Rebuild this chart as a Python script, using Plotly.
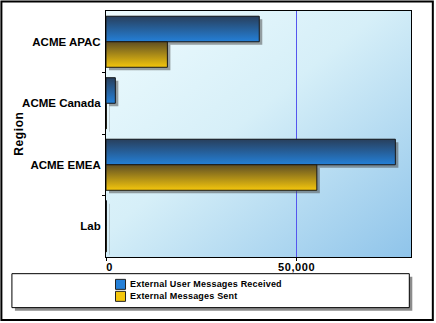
import plotly.graph_objects as go

# ---- data ----
regions = ["ACME APAC", "ACME Canada", "ACME EMEA", "Lab"]
received = [40200, 2450, 75900, 120]
sent = [16100, 110, 55300, 110]
series_names = ["External User Messages Received", "External Messages Sent"]
x_tick_values = [0, 50000]
x_tick_labels = ["\u00a0\u00a00", "50,000"]

# ---- page geometry (px) ----
W, H = 436, 323
ML, MR, MT, MB = 106, 25.3, 11, 65.7
PW, PH = W - ML - MR, H - MT - MB
X_MAX = 80000
Y_RANGE = [3.5, -0.5]
BARGAP = 0.17
BAR_W = (1 - BARGAP) / 2

FONT = "Liberation Sans, Arial, sans-serif"

# series styling: flat colour, gradient top -> bottom
styles = [
    dict(flat="#2479c9", top="#283f5c", bottom="#2480d8"),
    dict(flat="#e2b414", top="#5e4e24", bottom="#f4c60c"),
]


def xp(px):
    return (px - ML) / PW


def yp(py):
    return (MT + PH - py) / PH


def spaced(text, px=0.8):
    return f'<span style="letter-spacing:{px}px">{text}</span>'


# pixel -> data offsets for the drop shadows
SHADOW_PX = 3
sdx = SHADOW_PX * X_MAX / PW
sdy = SHADOW_PX * (Y_RANGE[0] - Y_RANGE[1]) / PH

fig = go.Figure()

positions = list(range(len(regions)))
series = [received, sent]

# base bars
for k, (vals, name) in enumerate(zip(series, series_names)):
    fig.add_trace(go.Bar(
        y=positions, x=vals, orientation="h", name=name,
        marker=dict(color=styles[k]["flat"], line=dict(width=0)),
        showlegend=False, hoverinfo="x+name",
    ))


def bar_box(i, k):
    y0 = i - BAR_W + k * BAR_W
    y1 = y0 + BAR_W
    return y0, y1


# shadows
for k, vals in enumerate(series):
    for i, v in enumerate(vals):
        y0, y1 = bar_box(i, k)
        fig.add_trace(go.Scatter(
            x=[sdx, v + sdx, v + sdx, sdx, sdx],
            y=[y0 + sdy, y0 + sdy, y1 + sdy, y1 + sdy, y0 + sdy],
            mode="lines", fill="toself", fillcolor="rgba(70,70,70,0.5)",
            line=dict(width=0), showlegend=False, hoverinfo="skip",
        ))

# gradient-shaded bar faces (dark edge on top, bright below)
for k, vals in enumerate(series):
    st = styles[k]
    for i, v in enumerate(vals):
        y0, y1 = bar_box(i, k)
        fig.add_trace(go.Scatter(
            x=[0, v, v, 0, 0],
            y=[y0, y0, y1, y1, y0],
            mode="lines", fill="toself",
            fillgradient=dict(type="vertical",
                              colorscale=[[0, st["bottom"]], [1, st["top"]]]),
            line=dict(color="#1a1a1a", width=1),
            showlegend=False, hoverinfo="skip",
        ))

# plot-area background gradient
bg_svg = (
    "<svg xmlns='http://www.w3.org/2000/svg' width='100' height='100' preserveAspectRatio='none'>"
    "<defs><linearGradient id='g' x1='0' y1='0' x2='1' y2='1'>"
    "<stop offset='0' stop-color='%23eefbfe'/>"
    "<stop offset='0.45' stop-color='%23d6eff8'/>"
    "<stop offset='1' stop-color='%238fc4ea'/>"
    "</linearGradient></defs>"
    "<rect width='100' height='100' fill='url(%23g)'/></svg>"
)
bg_uri = "data:image/svg+xml;charset=utf-8," + bg_svg.replace("<", "%3C").replace(">", "%3E").replace("'", "%27").replace(" ", "%20")

shapes = []
# outer frame
shapes.append(dict(type="rect", xref="paper", yref="paper",
                   x0=xp(1.5), x1=xp(432.5), y0=yp(320.5), y1=yp(1.5),
                   line=dict(color="black", width=2), layer="below"))
# legend box shadow + box
shapes.append(dict(type="rect", xref="paper", yref="paper",
                   x0=xp(15), x1=xp(412), y0=yp(311), y1=yp(277),
                   line=dict(width=0), fillcolor="#8c8c8c"))
shapes.append(dict(type="rect", xref="paper", yref="paper",
                   x0=xp(12), x1=xp(409), y0=yp(308), y1=yp(274),
                   line=dict(color="black", width=1), fillcolor="white"))

annotations = []
legend_rows = [284.7, 296.7]
for k, (name, row) in enumerate(zip(series_names, legend_rows)):
    shapes.append(dict(type="rect", xref="paper", yref="paper",
                       x0=xp(115.5), x1=xp(125.5), y0=yp(row + 5), y1=yp(row - 5),
                       line=dict(color="#222222", width=1),
                       fillcolor=styles[k]["bottom"]))
    annotations.append(dict(xref="paper", yref="paper", x=xp(127.5), y=yp(row),
                            xanchor="left", yanchor="middle", showarrow=False,
                            text=spaced(name, 0.2),
                            font=dict(family=FONT, size=9, color="black", weight="bold")))

# y-axis title
annotations.append(dict(xref="paper", yref="paper", x=xp(19), y=yp(134),
                        xanchor="center", yanchor="middle", showarrow=False,
                        text=spaced("Region", 0.6), textangle=-90,
                        font=dict(family=FONT, size=12, color="black", weight="bold")))

fig.update_layout(
    width=W, height=H,
    margin=dict(l=ML, r=MR, t=MT, b=MB, pad=0),
    paper_bgcolor="white",
    plot_bgcolor="rgba(0,0,0,0)",
    barmode="group", bargap=BARGAP, bargroupgap=0,
    showlegend=False,
    shapes=shapes,
    annotations=annotations,
    images=[dict(source=bg_uri, xref="paper", yref="paper", x=0, y=1,
                 sizex=1, sizey=1, sizing="stretch", layer="below",
                 xanchor="left", yanchor="top")],
    xaxis=dict(
        range=[0, X_MAX], tickvals=x_tick_values,
        ticktext=[spaced(t, 0.6) for t in x_tick_labels],
        showgrid=True, gridcolor="#5555ee", gridwidth=1, zeroline=False,
        showline=True, mirror=True, linecolor="black", linewidth=1,
        ticks="outside", ticklen=3, tickcolor="black", ticklabelstandoff=-3,
        tickfont=dict(family=FONT, size=11, color="black", weight="bold"),
    ),
    yaxis=dict(
        range=Y_RANGE, tickvals=positions, ticktext=regions,
        showgrid=False, zeroline=False,
        showline=True, mirror=True, linecolor="black", linewidth=1,
        ticks="", ticklabelstandoff=2,
        minor=dict(tickvals=[0.5, 1.5, 2.5], ticks="outside", ticklen=3,
                   tickcolor="black", showgrid=False),
        tickfont=dict(family=FONT, size=11.5, color="black", weight="bold"),
    ),
    font=dict(family=FONT),
)

fig.write_html("out.html")
